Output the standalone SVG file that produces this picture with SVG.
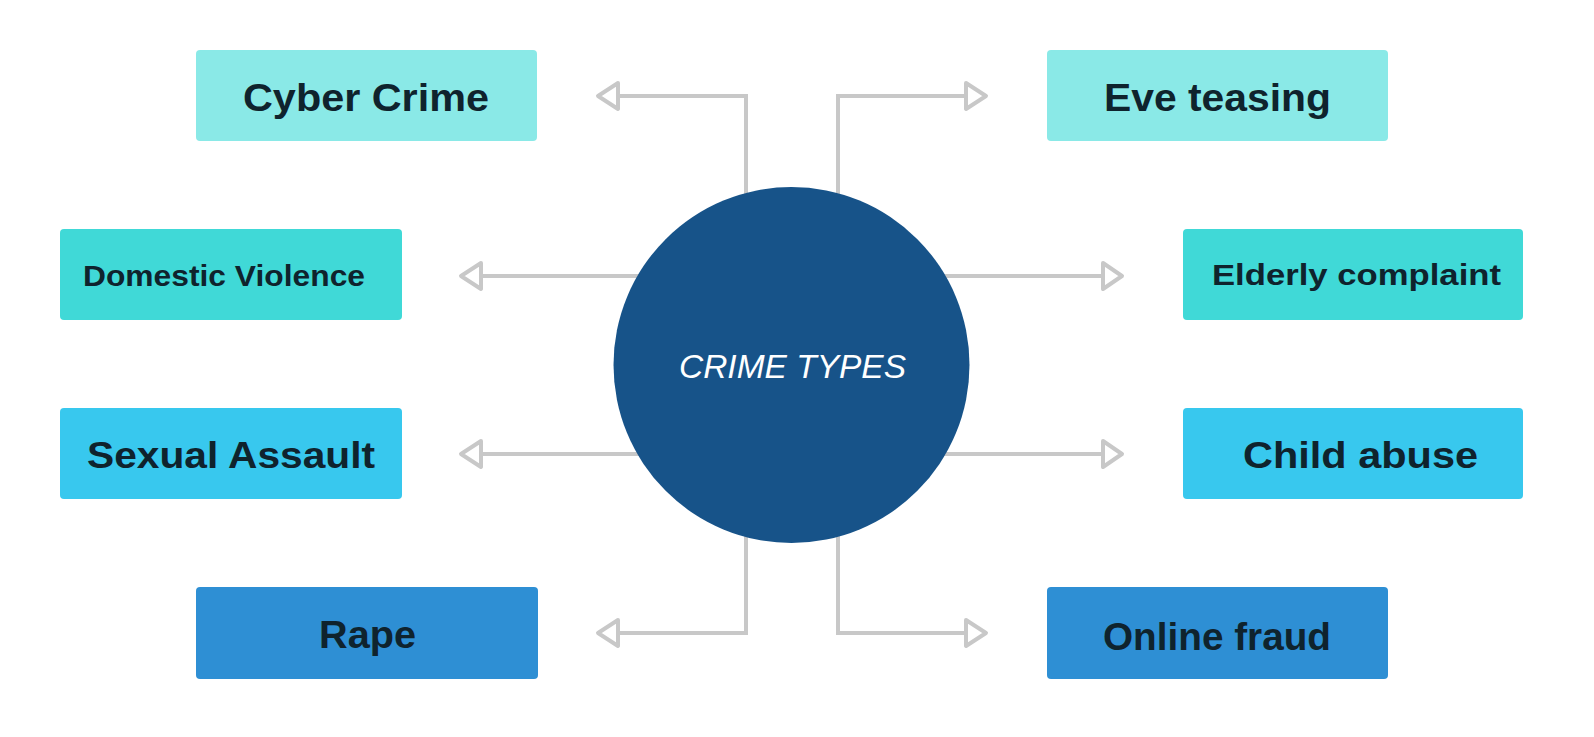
<svg xmlns="http://www.w3.org/2000/svg" width="1594" height="737" viewBox="0 0 1594 737">
  <style>
    .lbl { font-family: "Liberation Sans", Arial, sans-serif; font-weight: bold; fill: #0f232d; }
    .c1 { fill: #8ae9e7; }
    .c2 { fill: #40d9d7; }
    .c3 { fill: #38c8ee; }
    .c4 { fill: #2e8fd4; }
    .conn { fill: none; stroke: #c8c8c8; stroke-width: 4; }
    .head { fill: #ffffff; stroke: #c8c8c8; stroke-width: 4; stroke-linejoin: round; }
  </style>
  <rect width="1594" height="737" fill="#ffffff"/>
  <g id="connectors">
    <path class="conn" d="M746,260 V96 H618"/>
    <polygon class="head" points="618,83 598,96 618,109"/>
    <path class="conn" d="M838,260 V96 H966"/>
    <polygon class="head" points="966,83 986,96 966,109"/>
    <path class="conn" d="M700,276 H481"/>
    <polygon class="head" points="481,263 461,276 481,289"/>
    <path class="conn" d="M880,276 H1103"/>
    <polygon class="head" points="1103,263 1122,276 1103,289"/>
    <path class="conn" d="M700,454 H481"/>
    <polygon class="head" points="481,441 461,454 481,467"/>
    <path class="conn" d="M880,454 H1103"/>
    <polygon class="head" points="1103,441 1122,454 1103,467"/>
    <path class="conn" d="M746,470 V633 H618"/>
    <polygon class="head" points="618,620 598,633 618,646"/>
    <path class="conn" d="M838,470 V633 H966"/>
    <polygon class="head" points="966,620 986,633 966,646"/>
  </g>
  <g id="center">
    <circle cx="791.5" cy="365" r="178" fill="#175389"/>
    <text x="679" y="378" font-family="'Liberation Sans', Arial, sans-serif" font-style="italic" font-size="33" fill="#ffffff" textLength="227" lengthAdjust="spacingAndGlyphs">CRIME TYPES</text>
  </g>
  <g id="cyber-crime">
    <rect class="c1" x="196" y="50" width="341" height="91" rx="4"/>
    <text class="lbl" x="243" y="111" font-size="38" textLength="246" lengthAdjust="spacingAndGlyphs">Cyber Crime</text>
  </g>
  <g id="eve-teasing">
    <rect class="c1" x="1047" y="50" width="341" height="91" rx="4"/>
    <text class="lbl" x="1104" y="111" font-size="38" textLength="227" lengthAdjust="spacingAndGlyphs">Eve teasing</text>
  </g>
  <g id="domestic-violence">
    <rect class="c2" x="60" y="229" width="342" height="91" rx="4"/>
    <text class="lbl" x="83" y="286" font-size="29" textLength="282" lengthAdjust="spacingAndGlyphs">Domestic Violence</text>
  </g>
  <g id="elderly-complaint">
    <rect class="c2" x="1183" y="229" width="340" height="91" rx="4"/>
    <text class="lbl" x="1212" y="285" font-size="30" textLength="289" lengthAdjust="spacingAndGlyphs">Elderly complaint</text>
  </g>
  <g id="sexual-assault">
    <rect class="c3" x="60" y="408" width="342" height="91" rx="4"/>
    <text class="lbl" x="87" y="468" font-size="36" textLength="288" lengthAdjust="spacingAndGlyphs">Sexual Assault</text>
  </g>
  <g id="child-abuse">
    <rect class="c3" x="1183" y="408" width="340" height="91" rx="4"/>
    <text class="lbl" x="1243" y="468" font-size="36" textLength="235" lengthAdjust="spacingAndGlyphs">Child abuse</text>
  </g>
  <g id="rape">
    <rect class="c4" x="196" y="587" width="342" height="92" rx="4"/>
    <text class="lbl" x="319" y="648" font-size="38" textLength="97" lengthAdjust="spacingAndGlyphs">Rape</text>
  </g>
  <g id="online-fraud">
    <rect class="c4" x="1047" y="587" width="341" height="92" rx="4"/>
    <text class="lbl" x="1103" y="650" font-size="38" textLength="228" lengthAdjust="spacingAndGlyphs">Online fraud</text>
  </g>
</svg>
